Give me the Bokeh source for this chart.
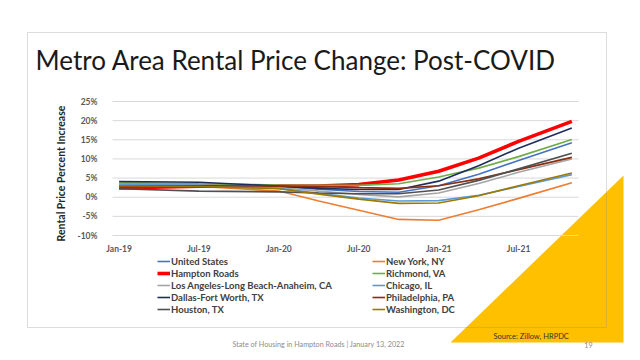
from math import pi
from bokeh.plotting import figure
from bokeh.models import Label, Legend, LegendItem, FixedTicker, PolyAnnotation, Range1d
from bokeh.embed import file_html
from bokeh.resources import INLINE

# ---------------- data ----------------
months = ["Jan-19", "Jul-19", "Jan-20", "Apr-20", "Jul-20", "Oct-20", "Jan-21", "Apr-21", "Jul-21", "Nov-21"]
united_states = [3.6, 3.3, 2.8, 2.1, 1.5, 1.3, 3.0, 6.0, 9.6, 14.2]
new_york = [2.8, 2.8, 1.6, -1.0, -3.4, -5.8, -6.0, -3.3, -0.3, 3.8]
hampton_roads = [2.4, 2.9, 2.9, 2.9, 3.3, 4.5, 6.8, 10.2, 14.6, 19.8]
richmond = [3.9, 3.5, 3.2, 3.1, 3.1, 3.5, 5.3, 7.6, 10.6, 15.1]
los_angeles = [3.5, 3.2, 2.6, 1.6, 0.7, 0.1, 1.1, 3.6, 6.5, 10.0]
chicago = [3.4, 3.1, 2.3, 1.0, -0.2, -1.0, -0.9, 0.5, 2.8, 5.9]
dallas = [4.1, 3.9, 2.9, 2.3, 2.0, 2.0, 4.2, 8.2, 12.8, 18.1]
philadelphia = [3.0, 3.0, 2.9, 2.8, 2.5, 2.3, 3.0, 4.8, 7.2, 10.4]
houston = [2.2, 1.6, 1.4, 1.1, 0.9, 0.9, 1.9, 4.4, 7.4, 11.5]
washington = [3.0, 2.8, 2.2, 0.8, -0.5, -1.6, -1.5, 0.4, 3.0, 6.3]

series_names = ["United States", "New York, NY", "Hampton Roads", "Richmond, VA",
                "Los Angeles-Long Beach-Anaheim, CA", "Chicago, IL", "Dallas-Fort Worth, TX",
                "Philadelphia, PA", "Houston, TX", "Washington, DC"]
series_values = [united_states, new_york, hampton_roads, richmond, los_angeles,
                 chicago, dallas, philadelphia, houston, washington]
series_colors = ["#4472C4", "#ED7D31", "#FF0000", "#70AD47", "#A5A5A5",
                 "#5B9BD5", "#1F2D5E", "#8B2D0E", "#505050", "#9C7A00"]
series_widths = [1.6, 1.6, 3.6, 1.6, 1.6, 1.6, 1.6, 1.6, 1.6, 1.6]

x_tick_labels = ["Jan-19", "Jul-19", "Jan-20", "Jul-20", "Jan-21", "Jul-21"]
y_ticks = [-10, -5, 0, 5, 10, 15, 20, 25]

MON = {"Jan": 0, "Feb": 1, "Mar": 2, "Apr": 3, "May": 4, "Jun": 5,
       "Jul": 6, "Aug": 7, "Sep": 8, "Oct": 9, "Nov": 10, "Dec": 11}


def month_index(lbl):
    m, y = lbl.split("-")
    return (int(y) - 19) * 12 + MON[m]


x_vals = [month_index(m) for m in months]

# ---------------- layout ----------------
W, H = 640, 360          # figure size
OFF = 0                  # page offset of the figure
PL, PR, PT, PB = 112, 578, 101, 235   # plot area in page px
X0, X1 = -0.5, 34.5
Y0, Y1 = min(y_ticks), max(y_ticks)
kx = (X1 - X0) / (PR - PL)
ky = (Y1 - Y0) / (PB - PT)
XS, XE = X0 - (PL - OFF) * kx, X1 + (OFF + W - PR) * kx
YS, YE = Y0 - (OFF + H - PB) * ky, Y1 + (PT - OFF) * ky


def dx(px):  # page px -> data x
    return X0 + (px - PL) * kx


def dy(py):  # page px -> data y
    return Y0 + (PB - py) * ky


p = figure(width=W, height=H, output_backend="svg", toolbar_location=None,
           x_range=Range1d(XS, XE), y_range=Range1d(YS, YE),
           min_border=0, min_border_left=0, min_border_right=0,
           min_border_top=0, min_border_bottom=0)
p.outline_line_color = None
p.background_fill_color = "white"
p.border_fill_color = "white"

# yellow triangle
tri_x = [450, 623, 623]
tri_y = [342, 342, 175]
p.add_layout(PolyAnnotation(xs=[dx(v) for v in tri_x], ys=[dy(v) for v in tri_y],
                            fill_color="#FFC000", fill_alpha=1, line_color=None, level="image"))

# grid lines limited to the plot area
p.xgrid.visible = False
p.ygrid.visible = False
p.segment(x0=[X0] * len(y_ticks), x1=[X1] * len(y_ticks), y0=y_ticks, y1=y_ticks,
          line_color="#D9D9D9", line_width=1)

# axes drawn at fixed locations inside the canvas
p.yaxis.fixed_location = X0
p.xaxis.fixed_location = Y0
p.yaxis.bounds = (Y0, Y1)
p.xaxis.bounds = (X0, X1)
p.yaxis.ticker = FixedTicker(ticks=y_ticks)
p.yaxis.major_label_overrides = {t: f"{t}%" for t in y_ticks}
p.xaxis.ticker = FixedTicker(ticks=[month_index(t) for t in x_tick_labels])
p.xaxis.major_label_overrides = {month_index(t): t for t in x_tick_labels}
for ax in (p.xaxis, p.yaxis):
    ax.axis_line_color = None
    ax.major_tick_line_color = None
    ax.minor_tick_line_color = None
    ax.major_label_text_font = "Lato"
    ax.major_label_text_font_size = "8.5px"
    ax.major_label_text_font_style = "bold"
    ax.major_label_text_color = "#595959"
p.yaxis.major_label_standoff = 9
p.xaxis.major_label_standoff = 2

# lines
items = []
for name, vals, col, lw in zip(series_names, series_values, series_colors, series_widths):
    r = p.line(x_vals, vals, line_color=col, line_width=lw)
    items.append(LegendItem(label=name, renderers=[r]))

# legend: left edge at page x 157, bottom at page y 315
legend = Legend(items=items, location=(157 - OFF, (OFF + H) - 315), orientation="horizontal", ncols=2,
                glyph_width=13, glyph_height=12, label_height=12, label_width=201,
                label_standoff=1, spacing=0, padding=0, margin=0,
                border_line_color=None, background_fill_alpha=0,
                label_text_font="Lato", label_text_font_size="9.5px",
                label_text_font_style="bold", label_text_color="#404040")
p.add_layout(legend)

# chart box
bx = [27, 606, 606, 27]
by = [32, 32, 327, 327]
p.add_layout(PolyAnnotation(xs=[dx(v) for v in bx], ys=[dy(v) for v in by],
                            fill_alpha=0, line_color="#8C8C8C", line_width=1))

# texts
p.add_layout(Label(x=dx(35), y=dy(59.5), text="Metro Area Rental Price Change: Post-COVID",
                   text_font="Lato", text_font_size="26px", text_color="#1a1a1a",
                   text_align="left", text_baseline="alphabetic"))
p.add_layout(Label(x=dx(60), y=dy(173), text="Rental Price Percent Increase", angle=pi / 2,
                   text_font="Lato", text_font_size="10.5px", text_font_style="bold",
                   text_color="#262626", text_align="center", text_baseline="middle"))
p.add_layout(Label(x=dx(232), y=dy(344), text="State of Housing in Hampton Roads | January 13, 2022",
                   text_font="Lato", text_font_size="7.2px", text_color="#8C8C8C",
                   text_align="left", text_baseline="middle"))
p.add_layout(Label(x=dx(588), y=dy(344), text="19",
                   text_font="Lato", text_font_size="7.2px", text_color="#8C8C8C",
                   text_align="center", text_baseline="middle"))
p.add_layout(Label(x=dx(493), y=dy(336), text="Source: Zillow, HRPDC",
                   text_font="Lato", text_font_size="7.5px", text_color="#333333",
                   text_align="left", text_baseline="middle"))

open("out.html", "w").write(file_html(p, INLINE))
